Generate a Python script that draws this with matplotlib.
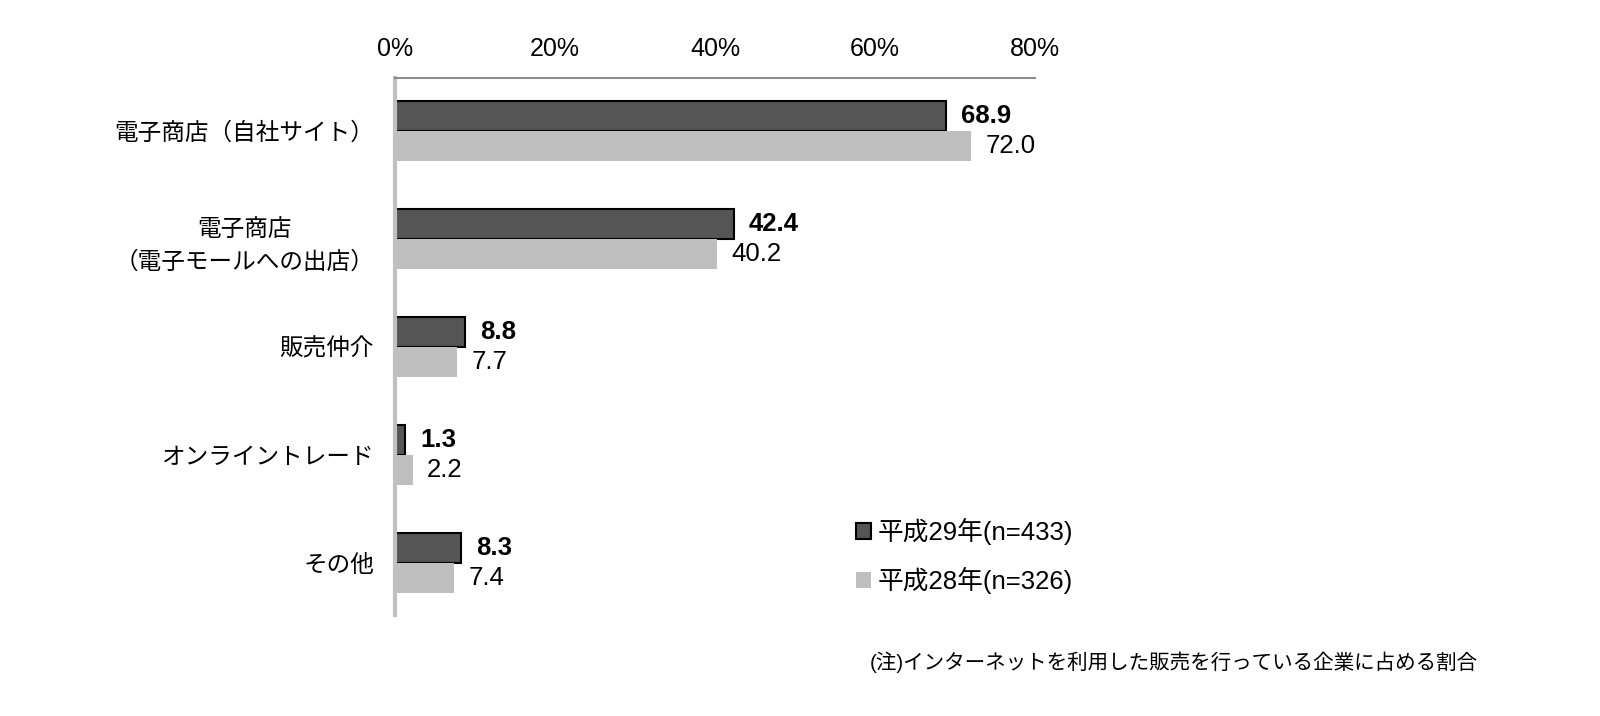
import matplotlib
matplotlib.use("Agg")
import matplotlib.pyplot as plt
import numpy as np

plt.rcParams['font.family'] = ['Liberation Sans', 'Noto Sans CJK JP', 'DejaVu Sans']

categories = ["電子商店（自社サイト）", "電子商店\n（電子モールへの出店）", "販売仲介", "オンライントレード", "その他"]
h29 = [68.9, 42.4, 8.8, 1.3, 8.3]
h28 = [72.0, 40.2, 7.7, 2.2, 7.4]
series_labels = ["平成29年(n=433)", "平成28年(n=326)"]
xticks = [0, 20, 40, 60, 80]
xticklabels = ["0%", "20%", "40%", "60%", "80%"]
note = "(注)インターネットを利用した販売を行っている企業に占める割合"

W, H = 1600, 716
fig = plt.figure(figsize=(W / 100, H / 100), dpi=100)
ax = fig.add_axes([395 / W, 1 - 615 / H, (1035 - 395) / W, (615 - 78) / H])

y = np.arange(len(categories))
bh = 0.28
b1 = ax.barh(y - bh / 2, h29, height=bh, color="#555555", edgecolor="#000000", linewidth=1.5,
             label=series_labels[0])
b2 = ax.barh(y + bh / 2, h28, height=bh, color="#bfbfbf", edgecolor="none", linewidth=0,
             label=series_labels[1])

for yi, v in zip(y, h29):
    ax.annotate(f"{v:.1f}", (v, yi - bh / 2), xytext=(10.5, 0), textcoords="offset points",
                ha="left", va="center", fontsize=18.5, fontweight="bold", color="#000000")
for yi, v in zip(y, h28):
    ax.annotate(f"{v:.1f}", (v, yi + bh / 2), xytext=(10.5, 0), textcoords="offset points",
                ha="left", va="center", fontsize=18.5, color="#000000")

ax.set_xlim(0, 80)
ax.set_ylim(4.48, -0.49)
ax.xaxis.tick_top()
ax.set_xticks(xticks)
ax.set_xticklabels(xticklabels, fontsize=18)
ax.set_yticks(y)
ax.set_yticklabels(categories, fontsize=17, multialignment="center", linespacing=1.55)
ax.tick_params(axis="x", length=0, pad=12.5)
ax.tick_params(axis="y", length=0, pad=15)

for s in ["right", "bottom"]:
    ax.spines[s].set_visible(False)
ax.spines["top"].set_color("#8c8c8c")
ax.spines["top"].set_linewidth(1.5)
ax.spines["left"].set_color("#c0c0c0")
ax.spines["left"].set_linewidth(3)

leg = ax.legend(handles=[b1, b2], loc="upper left", bbox_to_anchor=(856 / W, 1 - 518 / H),
                bbox_transform=fig.transFigure, frameon=False, fontsize=18.5,
                handlelength=0.58, handleheight=0.58, handletextpad=0.25,
                labelspacing=0.87, borderpad=0, borderaxespad=0)

fig.text(870 / W, 1 - 662 / H, note, fontsize=14.8, ha="left", va="center")

fig.savefig("out.png", dpi=100, facecolor="white")
